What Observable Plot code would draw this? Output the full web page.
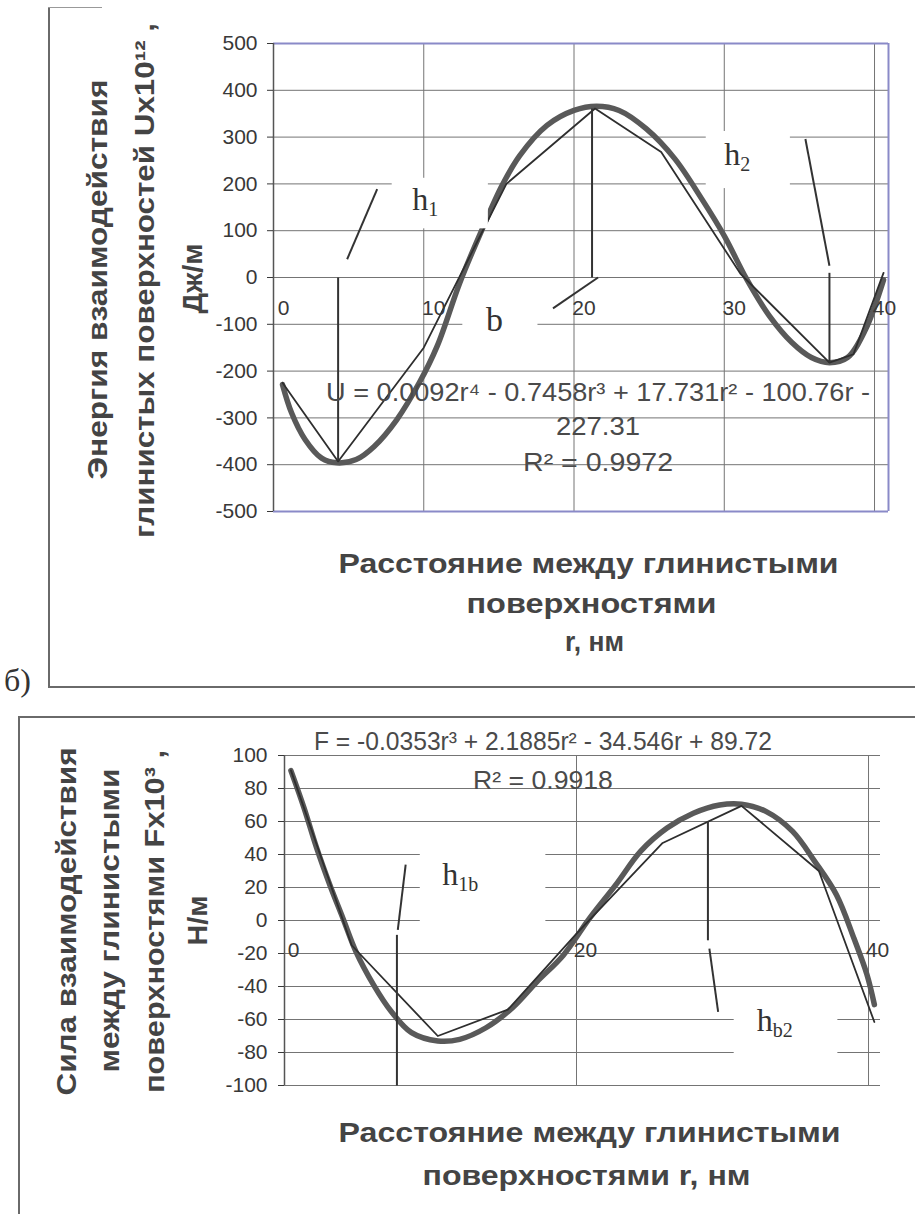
<!DOCTYPE html>
<html><head><meta charset="utf-8">
<script src="https://cdn.jsdelivr.net/npm/d3@7"></script>
<script src="https://cdn.jsdelivr.net/npm/@observablehq/plot@0.6"></script>
<style>
html,body{margin:0;padding:0;background:#fff}
body{width:915px;height:1214px;position:relative;overflow:hidden;font-family:"Liberation Sans",Arial,sans-serif}
#top,#bot{position:absolute;left:0}
#top{top:0}
#bot{top:700px}
.fr{position:absolute;background:#6a6a6a}
#lbl{position:absolute;left:4px;top:662px;font:32px "Liberation Serif","Times New Roman",serif;color:#333}
</style></head><body>
<div class="fr" style="left:48px;top:7px;width:1.5px;height:681px"></div>
<div class="fr" style="left:48px;top:7px;width:54px;height:1px;background:#999"></div>
<div class="fr" style="left:48px;top:686px;width:867px;height:1.5px"></div>
<div class="fr" style="left:18px;top:716px;width:897px;height:1.5px"></div>
<div class="fr" style="left:18px;top:716px;width:1.5px;height:498px"></div>
<div id="lbl">б)</div>
<div id="top"></div>
<div id="bot"></div>
<script>
// ---------- data: chart а (energy U) ----------
const uTicks = [-500,-400,-300,-200,-100,0,100,200,300,400,500];
const rTicksTop = [0,10,20,30,40];
const uDataR = [0.6, 4.3, 10.0, 15.5, 21.4, 25.8, 31.1, 37.0, 38.6, 40.6];
const uDataU = [-225, -393, -150, 200, 361, 268, 7, -182, -164, 10];
const uTrendR = [0.6,1.2,2.1,3.2,4.2,5.5,6.7,8.2,9.7,10.9,12.4,13.9,15.2,16.4,18.2,20,21.5,23,24.8,26.7,28.5,30,31.5,33,34.5,35.8,37,38.2,39.4,40.6];
const uTrendU = [-229,-289,-346,-386,-396,-389,-361,-304,-225,-146,-11,104,196,261,325,357,366,357,318,254,168,89,-4,-82,-139,-171,-182,-171,-111,-5];
const uLinkR1 = [4.3, 4.9, 21.2, 21.6, 35.4, 37.0];
const uLinkU1 = [-393, 39, 0, 0, 296, -182];
const uLinkR2 = [4.3, 6.9, 21.2, 18.6, 37.0, 37.0];
const uLinkU2 = [0, 189, 361, -66, 25, 10];
const uBoxR1 = [7.9, 28.8, 12.6];
const uBoxR2 = [14.3, 34.4, 17.6];
const uBoxU1 = [104, 190, -130];
const uBoxU2 = [212, 312, -45];
const uEqText = ["U = 0.0092r\u2074 - 0.7458r\u00b3 + 17.731r\u00b2 - 100.76r -", "227.31", "R\u00b2 = 0.9972"];
const uEqR = [21.6, 21.6, 21.6];
const uEqU = [-246, -318, -396];
const uHText = ["h", "h"];
const uHSub = ["1", "2"];
const uHR = [9.24, 30.0];
const uHU = [166, 262];
const uBText = ["b"];
const uBR = [14.7];
const uBU = [-91];
const uXTitle = ["Расстояние между глинистыми", "поверхностями", "r, нм"];
const uYTitle = ["Энергия взаимодействия", "глинистых поверхностей Ux10\u00b9\u00b2 ,", "Дж/м"];

// ---------- data: chart б (force F) ----------
const fTicks = [-100,-80,-60,-40,-20,0,20,40,60,80,100];
const rTicksBot = [0,20,40];
const fDataR = [0.44, 4.6, 10.5, 15.3, 20.0, 25.9, 31.3, 36.6, 40.4];
const fDataF = [91, -15, -70, -54, -8, 47, 69.5, 30, -61.5];
const fTrendR = [0.44,1.33,2.2,3.1,4.0,4.9,6.1,7.3,8.7,10.5,12.0,13.8,15.6,17.3,19.1,20.9,22.7,24.4,26.2,28,29.8,31.3,33,34.8,36.3,37.8,39,39.9,40.4];
const fTrendF = [90.8,68.4,44,21.7,1.4,-19,-39,-55,-68,-73,-72,-65,-53,-37,-21,1.4,21.7,42,56,65,70,70.5,66,54,36,15.6,-10.8,-33,-51];
const fLinkR1 = [7.7, 7.76, 29.0, 29.1];
const fLinkF1 = [-100, -5.7, 60, -17];
const fLinkR2 = [7.7, 8.3, 29.0, 29.7];
const fLinkF2 = [-8.7, 33.9, -12, -55.4];
const fBoxR1 = [9.3, 30.8];
const fBoxR2 = [17.9, 37.9];
const fBoxF1 = [-5, -92];
const fBoxF2 = [48, -50];
const fEqText = ["F = -0.0353r\u00b3 + 2.1885r\u00b2 - 34.546r + 89.72", "R\u00b2 = 0.9918"];
const fEqR = [17.7, 17.7];
const fEqF = [108, 84.7];
const fHText = ["h", "h"];
const fHSub = ["1b", "b2"];
const fHR = [10.8, 32.35];
const fHF = [27.8, -60.5];
const fXTitle = ["Расстояние между глинистыми", "поверхностями r, нм"];
const fYTitle = ["Сила взаимодействия", "между глинистыми", "поверхностями Fx10\u00b3 ,", "Н/м"];

// ---------- helpers ----------
const zip = (xs, ys) => xs.map((x, i) => ({x, y: ys[i]}));
const SANS = "Liberation Sans, Arial, sans-serif";
const SERIF = "Liberation Serif, Times New Roman, serif";
const GRID = "#747474";
const FRAME = "#8a8ac8";
const INK = "#383838";
const TITLE = "#444";

function titleMarks(lines, layout, rotate) {
  return lines.map((t, i) => Plot.text([t], {
    text: d => d,
    frameAnchor: rotate ? "left" : "bottom",
    dx: layout[i].dx, dy: layout[i].dy,
    rotate: rotate ? -90 : 0,
    fontSize: 28, fontWeight: "bold", fill: TITLE, fontFamily: SANS,
    lineAnchor: "middle", textAnchor: "middle"
  }));
}
// stretch whole-line texts to the widths measured on the scan
function stretch(svg, lines, layout) {
  const want = new Map(lines.map((t, i) => [t, layout[i].len]));
  d3.select(svg).selectAll("text").each(function () {
    const t = this.textContent;
    if (want.has(t) && this.childElementCount === 0) {
      this.setAttribute("textLength", want.get(t));
      this.setAttribute("lengthAdjust", "spacingAndGlyphs");
    }
  });
}

// ---------- chart а ----------
const uXLayout = [{dx: 7.5, dy: 53, len: 500}, {dx: 10.5, dy: 93, len: 250}, {dx: 13.5, dy: 131, len: 59}];
const uYLayout = [{dx: -175, dy: 2, len: 400}, {dx: -128, dy: 3, len: 515}, {dx: -80, dy: 1, len: 70}];
const uEqLayout = [{len: 544}, {len: 84}, {len: 150}];
const topSvg = Plot.plot({
  width: 915, height: 700,
  marginTop: 43, marginBottom: 189, marginLeft: 273, marginRight: 27,
  x: {domain: [0, 40.93], axis: null},
  y: {domain: [-500, 500], axis: null},
  style: {fontFamily: SANS, overflow: "visible", background: "transparent", color: INK},
  marks: [
    Plot.gridX(rTicksTop, {stroke: GRID, strokeOpacity: 1, strokeWidth: 1}),
    Plot.gridY(uTicks, {stroke: GRID, strokeOpacity: 1, strokeWidth: 1}),
    Plot.ruleY([500, -500], {stroke: FRAME, strokeWidth: 2}),
    Plot.ruleX([40.93], {stroke: FRAME, strokeWidth: 2}),
    Plot.line(zip(uTrendR, uTrendU), {x: "x", y: "y", curve: "catmull-rom", stroke: "#595959", strokeWidth: 5.5, strokeLinecap: "round"}),
    Plot.line(zip(uDataR, uDataU), {x: "x", y: "y", stroke: "#2e2e2e", strokeWidth: 1.8}),
    Plot.rect(uBoxR1.map((r, i) => ({x1: r, x2: uBoxR2[i], y1: uBoxU1[i], y2: uBoxU2[i]})), {x1: "x1", x2: "x2", y1: "y1", y2: "y2", fill: "white"}),
    Plot.link(uLinkR1.map((r, i) => ({x1: r, y1: uLinkU1[i], x2: uLinkR2[i], y2: uLinkU2[i]})), {x1: "x1", y1: "y1", x2: "x2", y2: "y2", stroke: "#333", strokeWidth: 2}),
    Plot.ruleX([0], {stroke: "#555", strokeWidth: 1.5}),
    Plot.axisY(uTicks, {tickSize: 6, tickPadding: 10, fontSize: 21, tickFormat: d => String(d), color: INK, label: null}),
    Plot.text(rTicksTop, {x: d => d, y: d => 0, text: d => String(d), dx: 10, dy: 31, fontSize: 21, fill: INK}),
    Plot.text(uEqText, {x: (d, i) => uEqR[i], y: (d, i) => uEqU[i], text: d => d, fontSize: 26, fill: "#4a4a4a"}),
    Plot.text(uHText, {x: (d, i) => uHR[i], y: (d, i) => uHU[i], text: d => d, textAnchor: "start", fontSize: 32, fontFamily: SERIF, fill: "#333"}),
    Plot.text(uHSub, {x: (d, i) => uHR[i], y: (d, i) => uHU[i], text: d => d, textAnchor: "start", dx: 16, dy: 10, fontSize: 20, fontFamily: SERIF, fill: "#333"}),
    Plot.text(uBText, {x: (d, i) => uBR[i], y: (d, i) => uBU[i], text: d => d, fontSize: 34, fontFamily: SERIF, fill: "#333"}),
    ...titleMarks(uXTitle, uXLayout, false),
    ...titleMarks(uYTitle, uYLayout, true)
  ]
});
stretch(topSvg, uXTitle, uXLayout);
stretch(topSvg, uYTitle, uYLayout);
stretch(topSvg, uEqText, uEqLayout);
document.getElementById("top").appendChild(topSvg);

// ---------- chart б ----------
const fXLayout = [{dx: 7, dy: 48, len: 502}, {dx: 4, dy: 91, len: 328}];
const fYLayout = [{dx: -217, dy: 1, len: 348}, {dx: -174, dy: 0, len: 304}, {dx: -129, dy: 1, len: 343}, {dx: -86, dy: 0, len: 50}];
const fEqLayout = [{len: 458}, {len: 140}];
const botSvg = Plot.plot({
  width: 915, height: 514,
  marginTop: 55, marginBottom: 129, marginLeft: 284, marginRight: 35,
  x: {domain: [0, 40.82], axis: null},
  y: {domain: [-100, 100], axis: null},
  style: {fontFamily: SANS, overflow: "visible", background: "transparent", color: INK},
  marks: [
    Plot.gridX(rTicksBot, {stroke: GRID, strokeOpacity: 1, strokeWidth: 1}),
    Plot.gridY(fTicks, {stroke: GRID, strokeOpacity: 1, strokeWidth: 1}),
    Plot.line(zip(fTrendR, fTrendF), {x: "x", y: "y", curve: "catmull-rom", stroke: "#595959", strokeWidth: 5.5, strokeLinecap: "round"}),
    Plot.line(zip(fDataR, fDataF), {x: "x", y: "y", stroke: "#2e2e2e", strokeWidth: 1.8}),
    Plot.rect(fBoxR1.map((r, i) => ({x1: r, x2: fBoxR2[i], y1: fBoxF1[i], y2: fBoxF2[i]})), {x1: "x1", x2: "x2", y1: "y1", y2: "y2", fill: "white"}),
    Plot.link(fLinkR1.map((r, i) => ({x1: r, y1: fLinkF1[i], x2: fLinkR2[i], y2: fLinkF2[i]})), {x1: "x1", y1: "y1", x2: "x2", y2: "y2", stroke: "#333", strokeWidth: 2}),
    Plot.ruleX([0], {stroke: "#555", strokeWidth: 1.5}),
    Plot.axisY(fTicks, {tickSize: 6, tickPadding: 11, fontSize: 21, tickFormat: d => String(d), color: INK, label: null}),
    Plot.text(rTicksBot, {x: d => d, y: d => 0, text: d => String(d), dx: 9, dy: 30, fontSize: 21, fill: INK}),
    Plot.text(fEqText, {x: (d, i) => fEqR[i], y: (d, i) => fEqF[i], text: d => d, fontSize: 25, fill: "#4a4a4a"}),
    Plot.text(fHText, {x: (d, i) => fHR[i], y: (d, i) => fHF[i], text: d => d, textAnchor: "start", fontSize: 32, fontFamily: SERIF, fill: "#333"}),
    Plot.text(fHSub, {x: (d, i) => fHR[i], y: (d, i) => fHF[i], text: d => d, textAnchor: "start", dx: 16, dy: 10, fontSize: 20, fontFamily: SERIF, fill: "#333"}),
    ...titleMarks(fXTitle, fXLayout, false),
    ...titleMarks(fYTitle, fYLayout, true)
  ]
});
stretch(botSvg, fXTitle, fXLayout);
stretch(botSvg, fYTitle, fYLayout);
stretch(botSvg, fEqText, fEqLayout);
document.getElementById("bot").appendChild(botSvg);
</script>
</body></html>
